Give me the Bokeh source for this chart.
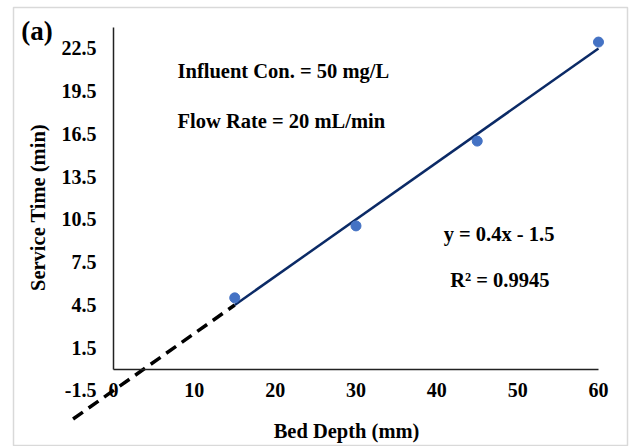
from bokeh.plotting import figure
from bokeh.models import LinearAxis, FixedTicker, Range1d, Label, ColumnDataSource, PrintfTickFormatter
from bokeh.embed import file_html
from bokeh.resources import INLINE

# ---- data ----
bed_depth = [15, 30, 45, 60]
service_time = [5.0, 10.05, 16.0, 22.95]
fit_slope = 0.4
fit_intercept = -1.5
fit_span = [15, 60]          # solid trend line extent
extrap_span = [-5, 15]       # dashed extrapolation extent
x_ticks = [0, 10, 20, 30, 40, 50, 60]
y_ticks = [-1.5, 1.5, 4.5, 7.5, 10.5, 13.5, 16.5, 19.5, 22.5]

FONT = "Liberation Serif"

p = figure(width=629, height=446,
           x_range=Range1d(-12.37, 63.59), y_range=Range1d(-5.43, 25.375),
           x_axis_type=None, y_axis_type=None,
           min_border_left=13, min_border_top=7, min_border_right=2, min_border_bottom=0,
           output_backend="svg", toolbar_location=None,
           background_fill_color="white", border_fill_color="white",
           outline_line_color="#d9d9d9", outline_line_width=1.5)

def style_labels(ax, size):
    ax.major_label_text_font = FONT
    ax.major_label_text_font_style = "bold"
    ax.major_label_text_font_size = size
    ax.major_label_text_color = "black"

# y axis: line from 0 up
y_line = LinearAxis(fixed_location=0, bounds=(0, 24), ticker=FixedTicker(ticks=[]),
                    axis_line_color="#222222", axis_line_width=1.5,
                    major_tick_line_color=None, minor_tick_line_color=None,
                    major_label_text_font_size="0px")
p.add_layout(y_line, "left")

# y axis: labels
y_lab = LinearAxis(fixed_location=0, ticker=FixedTicker(ticks=y_ticks),
                   formatter=PrintfTickFormatter(format="%.1f"),
                   axis_line_color=None, major_tick_line_color=None, minor_tick_line_color=None,
                   major_tick_out=0, major_label_standoff=17)
style_labels(y_lab, "20px")
p.add_layout(y_lab, "left")

# x axis
x_ax = LinearAxis(fixed_location=0, bounds=(0, 60), ticker=FixedTicker(ticks=x_ticks),
                  formatter=PrintfTickFormatter(format="%d"),
                  axis_line_color="#222222", axis_line_width=1.5,
                  major_tick_line_color=None, minor_tick_line_color=None,
                  major_tick_out=0, major_label_standoff=14)
style_labels(x_ax, "20px")
p.add_layout(x_ax, "below")

# trend lines
p.line(x=extrap_span, y=[fit_slope * v + fit_intercept for v in extrap_span],
       line_color="black", line_width=3.5, line_dash="12 7")
p.line(x=fit_span, y=[fit_slope * v + fit_intercept for v in fit_span],
       line_color="#0b2a66", line_width=2.5)

# data points
src = ColumnDataSource(dict(x=bed_depth, y=service_time))
p.scatter(x="x", y="y", source=src, size=10, fill_color="#4472C4", line_color="#4472C4")

def add_text(txt, x, y, size="20.5px", align="left", angle=0.0):
    p.add_layout(Label(x=x, y=y, text=txt, text_font=FONT, text_font_style="bold",
                       text_font_size=size, text_align=align, text_baseline="middle",
                       text_color="black", angle=angle))

add_text("Influent Con. = 50 mg/L", 7.92, 20.95)
add_text("Flow Rate = 20 mL/min", 7.92, 17.44)
add_text("y = 0.4x - 1.5", 47.7, 9.5, align="center")
add_text("R² = 0.9945", 47.8, 6.22, align="center")
add_text("(a)", -11.4, 23.76, size="27px")
add_text("Bed Depth (mm)", 28.83, -4.31, align="center")
add_text("Service Time (min)", -9.40, 11.34, align="center", angle=1.5708)

open("out.html", "w").write(file_html(p, INLINE))
